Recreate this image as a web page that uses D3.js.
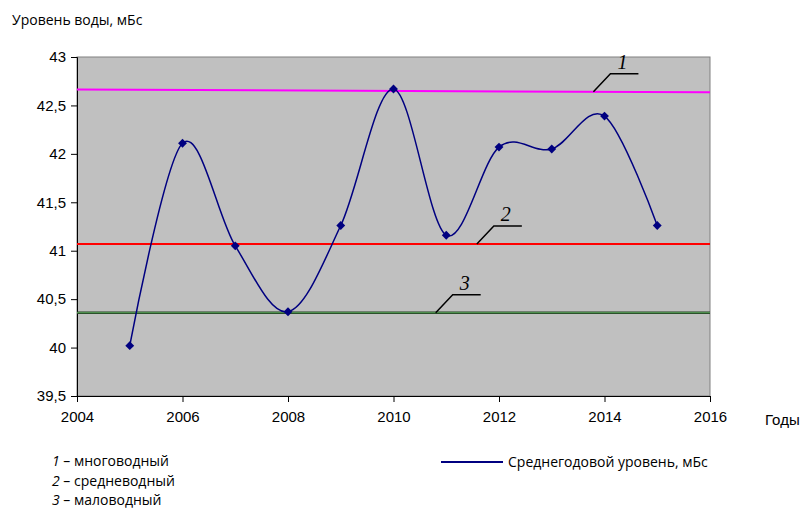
<!DOCTYPE html>
<meta charset="utf-8">
<head>
<style>
body { margin: 0; background: #fff; }
</style>
</head>
<script src="https://d3js.org/d3.v7.min.js"></script>
<div id="chart"></div>
<script>

// data
var years  = [2005, 2006, 2007, 2008, 2009, 2010, 2011, 2012, 2013, 2014, 2015];
var levels = [40.02, 42.11, 41.05, 40.37, 41.26, 42.67, 41.16, 42.07, 42.05, 42.39, 41.26];

// reference levels: 1 - high water (slightly sloped), 2 - mean, 3 - low water
var highLine = [42.665, 42.635];
var meanLine = [41.07, 41.07];
var lowLine  = [40.36, 40.36];

var xTicks = [2004, 2006, 2008, 2010, 2012, 2014, 2016];
var yTicks = [39.5, 40, 40.5, 41, 41.5, 42, 42.5, 43];

var legendLabels = ["многоводный", "средневодный", "маловодный"];

var W = 805, H = 509;
var margin = {top: 57, right: 95, bottom: 113, left: 77};
var width = W - margin.left - margin.right,
    height = H - margin.top - margin.bottom;

var sans = "Liberation Sans, Arial, sans-serif";
var calib = "Open Sans, sans-serif";

var svg = d3.select("#chart").append("svg")
  .attr("width", W).attr("height", H);

var g = svg.append("g")
  .attr("transform", "translate(" + margin.left + "," + margin.top + ")");

var x = d3.scaleLinear().domain([2004, 2016]).range([0, width]);
var y = d3.scaleLinear().domain([39.5, 43]).range([height, 0]);

// plot area
g.append("rect")
  .attr("width", width).attr("height", height)
  .attr("fill", "#c0c0c0")
  .attr("stroke", "#808080");

// axes
var fmt = function(d) { return String(d).replace(".", ","); };
var yAxis = g.append("g")
  .call(d3.axisLeft(y).tickValues(yTicks).tickFormat(fmt).tickSize(6).tickPadding(5));
var xAxis = g.append("g")
  .attr("transform", "translate(0," + height + ")")
  .call(d3.axisBottom(x).tickValues(xTicks).tickFormat(d3.format("d")).tickSize(6).tickPadding(9));
[xAxis, yAxis].forEach(function(a) {
  a.selectAll("text").style("font-size", "15px").attr("fill", "#000")
    .style("font-family", sans);
  a.selectAll("line, path").attr("stroke", "#000");
});

// reference lines
var ends = [2004, 2016];
function refLine(vals, color, w) {
  g.append("line")
    .attr("x1", x(ends[0])).attr("x2", x(ends[1]))
    .attr("y1", y(vals[0])).attr("y2", y(vals[1]))
    .attr("stroke", color).attr("stroke-width", w);
}
refLine(highLine, "#ff00ff", 2);
refLine(meanLine, "#ff0000", 2);
refLine(lowLine, "#1f3f1f", 2.5);
refLine(lowLine, "#5aa05a", 1);

// leader lines with italic numbers
var leaders = [
  {n: "1", year: 2013.79, vals: highLine},
  {n: "2", year: 2011.58, vals: meanLine},
  {n: "3", year: 2010.80, vals: lowLine}
];
leaders.forEach(function(d) {
  var t = (d.year - ends[0]) / (ends[1] - ends[0]);
  var x0 = x(d.year), y0 = y(d.vals[0] + (d.vals[1] - d.vals[0]) * t);
  g.append("path")
    .attr("d", "M" + x0 + "," + y0 + "L" + (x0 + 17) + "," + (y0 - 18) + "L" + (x0 + 45) + "," + (y0 - 18))
    .attr("fill", "none").attr("stroke", "#000").attr("stroke-width", 1.5);
  g.append("text")
    .attr("x", x0 + 29).attr("y", y0 - 23)
    .attr("text-anchor", "middle")
    .style("font-family", "Liberation Serif, Times New Roman, serif")
    .style("font-style", "italic").style("font-size", "20px")
    .text(d.n);
});

// mean annual level
var pts = years.map(function(d, i) { return [x(d), y(levels[i])]; });
g.append("path")
  .attr("d", d3.line().curve(d3.curveCardinal.tension(0))(pts))
  .attr("fill", "none").attr("stroke", "#000080").attr("stroke-width", 1.5);

g.selectAll(".pt").data(pts).enter().append("path")
  .attr("class", "pt")
  .attr("transform", function(d) { return "translate(" + d[0] + "," + d[1] + ")"; })
  .attr("d", d3.symbol().type(d3.symbolDiamond2).size(50))
  .attr("fill", "#000080");

// titles
svg.append("text").attr("x", 12).attr("y", 25)
  .style("font-family", calib).style("font-size", "14px")
  .text("Уровень воды, мБс");
svg.append("text").attr("x", 765).attr("y", 425)
  .style("font-family", sans).style("font-size", "15px")
  .text("Годы");

// legends
legendLabels.forEach(function(d, i) {
  var t = svg.append("text").attr("x", 52).attr("y", 466 + i * 19.5)
    .style("font-family", calib).style("font-size", "14px");
  t.append("tspan").style("font-style", "italic").text(i + 1);
  t.append("tspan").text(" – " + d);
});
svg.append("line").attr("x1", 441).attr("x2", 503).attr("y1", 462).attr("y2", 462)
  .attr("stroke", "#000080").attr("stroke-width", 2);
svg.append("text").attr("x", 508).attr("y", 467)
  .style("font-family", calib).style("font-size", "14px")
  .text("Среднегодовой уровень, мБс");

</script>
